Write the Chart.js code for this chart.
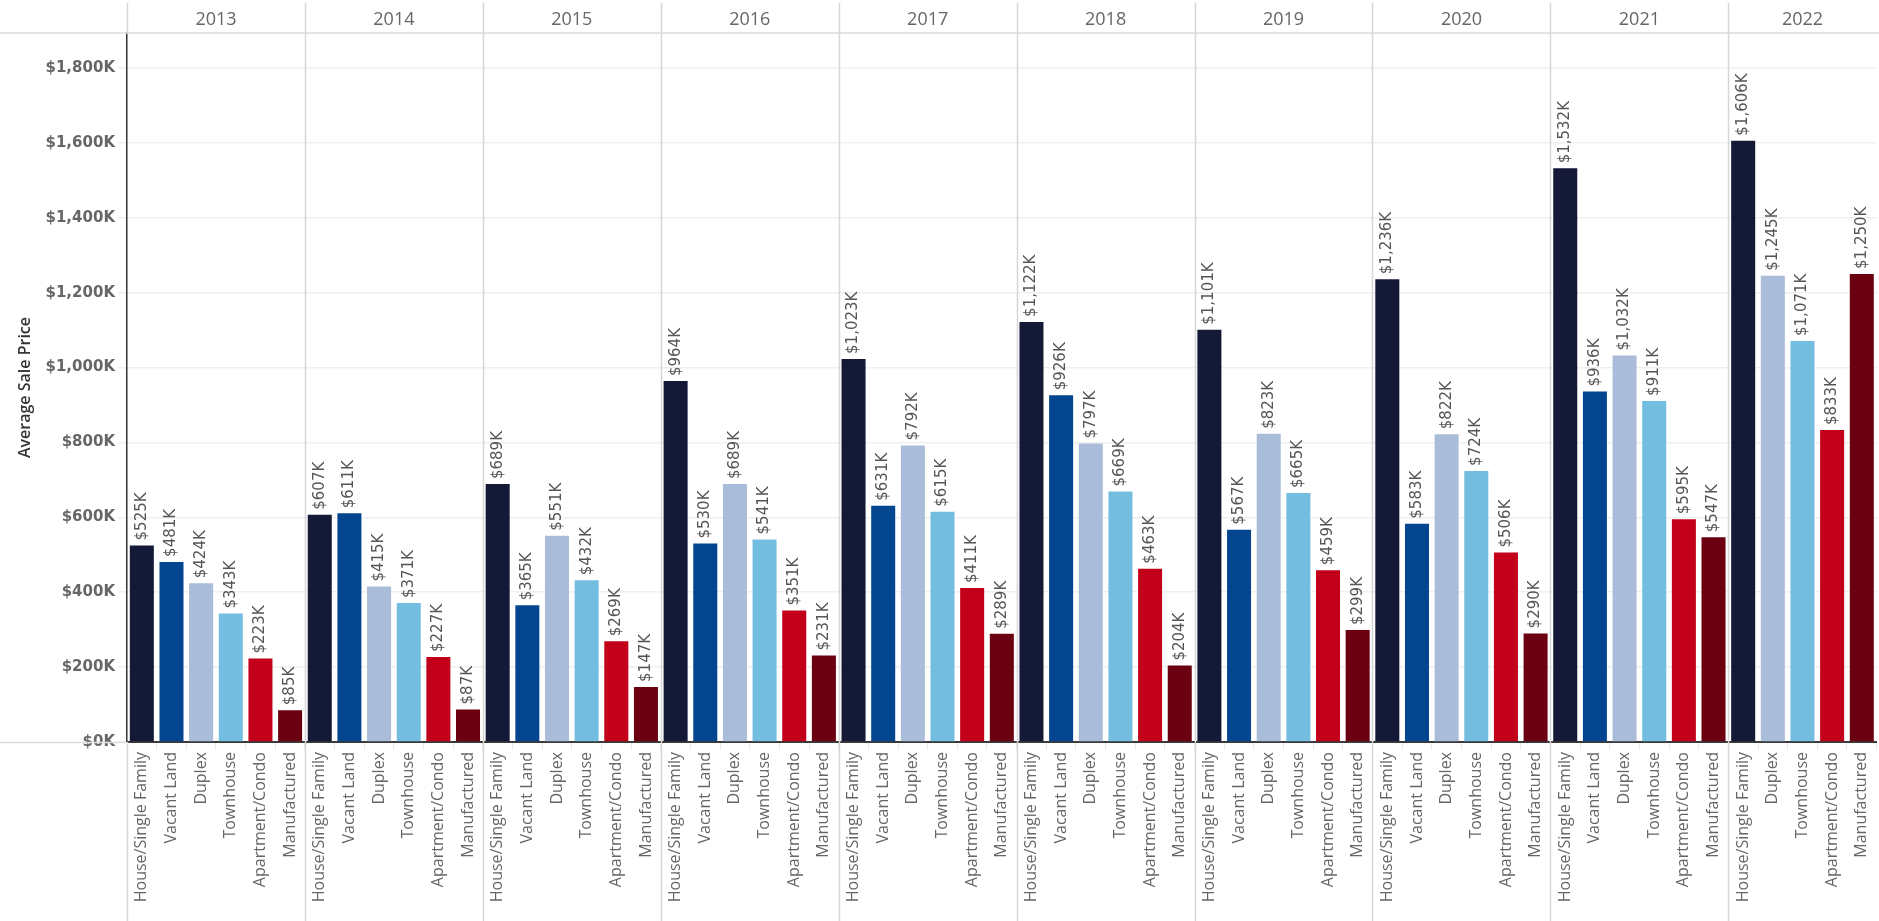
<!DOCTYPE html>
<html><head><meta charset="utf-8">
<script src="https://cdn.jsdelivr.net/npm/chart.js@4.4.1/dist/chart.umd.min.js"></script>
<style>
html,body{margin:0;padding:0;background:#fff;overflow:hidden;width:1879px;height:921px;}
canvas{display:block;}
</style></head><body>
<canvas id="c" width="1883" height="921"></canvas>
<script>
// ---- data (values in $K) ----
const years = ['2013','2014','2015','2016','2017','2018','2019','2020','2021','2022'];
const propertyTypes = ['House/Single Family','Vacant Land','Duplex','Townhouse','Apartment/Condo','Manufactured'];
const houseSingleFamily = [525, 607, 689, 964, 1023, 1122, 1101, 1236, 1532, 1606];
const vacantLand        = [481, 611, 365, 530, 631, 926, 567, 583, 936, null];
const duplex            = [424, 415, 551, 689, 792, 797, 823, 822, 1032, 1245];
const townhouse         = [343, 371, 432, 541, 615, 669, 665, 724, 911, 1071];
const apartmentCondo    = [223, 227, 269, 351, 411, 463, 459, 506, 595, 833];
const manufactured      = [85, 87, 147, 231, 289, 204, 299, 290, 547, 1250];
const yTickValues = [0, 200, 400, 600, 800, 1000, 1200, 1400, 1600, 1800];

// ---- styles ----
const typeColors = ['#131936', '#03468f', '#a9bcd9', '#73bde0', '#c2001a', '#6b0010'];

const seriesByType = [houseSingleFamily, vacantLand, duplex, townhouse, apartmentCondo, manufactured];

// flatten into (year, type) slots, skipping missing combos
const labels = [], values = [], colors = [], groups = [];
years.forEach((yr, yi) => {
  const start = labels.length;
  propertyTypes.forEach((t, ti) => {
    const v = seriesByType[ti][yi];
    if (v === null || v === undefined) return;
    labels.push(t); values.push(v); colors.push(typeColors[ti]);
  });
  groups.push({year: yr, start, end: labels.length - 1});
});

const fmtK = v => '$' + Number(v).toLocaleString('en-US') + 'K';

const panelPlugin = {
  id: 'panels',
  beforeDatasetsDraw(chart) {
    const {ctx, chartArea, scales: {x}} = chart;
    const slot = x.width / labels.length;
    ctx.save();
    ctx.strokeStyle = '#d6d6d6';
    ctx.lineWidth = 1.5;
    groups.forEach((g, i) => {
      const px = Math.round(x.getPixelForValue(g.start) - slot / 2) + 0.5;
      ctx.beginPath();
      if (i === 0) {
        ctx.moveTo(px, 3); ctx.lineTo(px, chartArea.top);
        ctx.moveTo(px, chartArea.bottom); ctx.lineTo(px, chart.height);
      } else {
        ctx.moveTo(px, 3); ctx.lineTo(px, chart.height);
      }
      ctx.stroke();
    });
    ctx.restore();
  },
  afterDraw(chart) {
    const {ctx, chartArea, scales: {x}} = chart;
    const slot = x.width / labels.length;
    ctx.save();
    // header bottom line and left baseline extension
    ctx.strokeStyle = '#dcdcdc';
    ctx.lineWidth = 1.5;
    ctx.beginPath();
    ctx.moveTo(0, chartArea.top); ctx.lineTo(chart.width, chartArea.top);
    ctx.moveTo(0, chartArea.bottom + 0.5); ctx.lineTo(chartArea.left, chartArea.bottom + 0.5);
    ctx.stroke();
    // year headers
    ctx.fillStyle = '#666';
    ctx.font = '18px "Open Sans"';
    ctx.textAlign = 'center';
    ctx.textBaseline = 'middle';
    groups.forEach(g => {
      const l = x.getPixelForValue(g.start) - slot / 2;
      const r = x.getPixelForValue(g.end) + slot / 2;
      ctx.fillText(g.year, (l + r) / 2, 20);
    });
    // value labels
    const meta = chart.getDatasetMeta(0);
    ctx.fillStyle = '#555';
    ctx.font = '15px "DejaVu Sans"';
    ctx.textAlign = 'left';
    ctx.textBaseline = 'middle';
    meta.data.forEach((el, i) => {
      ctx.save();
      ctx.translate(el.x, el.y - 5);
      ctx.rotate(-Math.PI / 2);
      ctx.fillText(fmtK(values[i]), 0, 0);
      ctx.restore();
    });
    ctx.restore();
  }
};

new Chart(document.getElementById('c'), {
  type: 'bar',
  data: {
    labels,
    datasets: [{
      data: values,
      backgroundColor: colors,
      borderWidth: 0,
      barPercentage: 0.81,
      categoryPercentage: 1.0
    }]
  },
  options: {
    responsive: false,
    animation: false,
    devicePixelRatio: 1,
    layout: {padding: {top: 33, left: 0, right: 0, bottom: 0}},
    plugins: {legend: {display: false}, tooltip: {enabled: false}},
    scales: {
      x: {
        afterFit(scale) { scale.height = 179; },
        grid: {display: true, drawOnChartArea: false, drawTicks: true, tickLength: 8, color: '#e8e8e8', offset: true},
        border: {display: true, color: '#3a3a3a', width: 2},
        ticks: {
          autoSkip: false, minRotation: 90, maxRotation: 90, padding: 2,
          color: '#666', font: {family: 'Open Sans', size: 16}
        }
      },
      y: {
        min: 0, max: 1893.5,
        afterFit(scale) { scale.width = 127; },
        afterBuildTicks(scale) { scale.ticks = yTickValues.map(v => ({value: v})); },
        grid: {color: '#efefef', lineWidth: 1.5, tickLength: 9, drawTicks: true},
        border: {display: true, color: '#333', width: 1.5},
        ticks: {
          padding: 3, color: '#666',
          font: {family: 'DejaVu Sans', size: 15, weight: 'bold'},
          callback: v => fmtK(v)
        },
        title: {
          display: true, text: 'Average Sale Price', color: '#333',
          font: {family: 'Open Sans', size: 16, weight: '600'},
          padding: {top: 16, bottom: 0}
        }
      }
    }
  },
  plugins: [panelPlugin]
});
</script>
</body></html>
